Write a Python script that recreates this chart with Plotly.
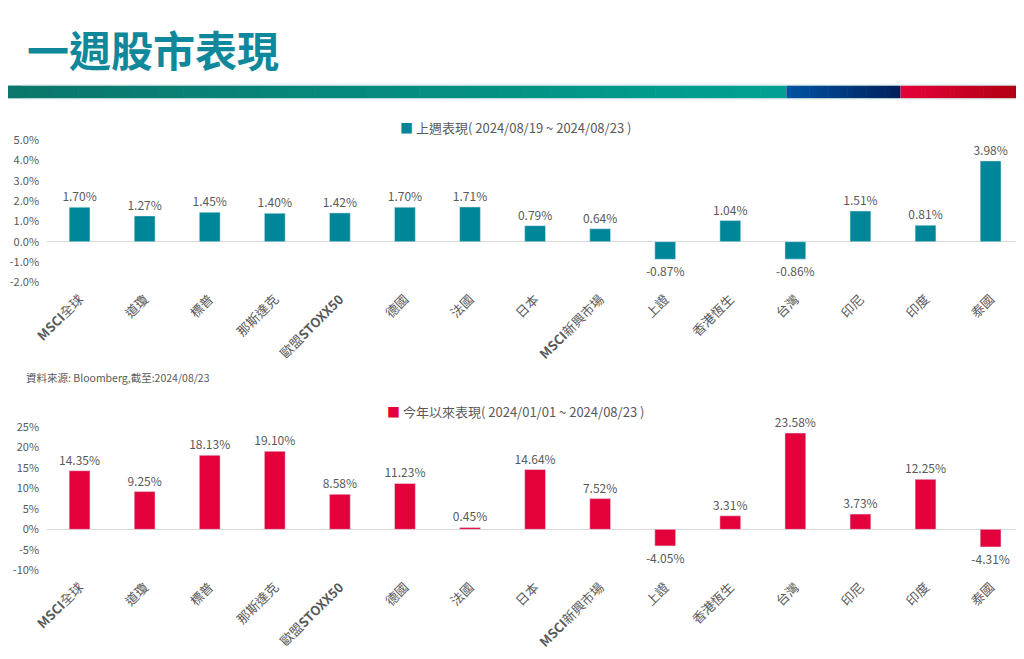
import plotly.graph_objects as go

# ─── Datos
categorias = ["<b>MSCI</b>全球", "道瓊", "標普", "那斯達克", "歐盟<b>STOXX50</b>", "德國", "法國",
              "日本", "<b>MSCI</b>新興市場", "上證", "香港恆生", "台灣", "印尼", "印度", "泰國"]
semana = [1.70, 1.27, 1.45, 1.40, 1.42, 1.70, 1.71, 0.79, 0.64, -0.87, 1.04, -0.86, 1.51, 0.81, 3.98]
anio = [14.35, 9.25, 18.13, 19.10, 8.58, 11.23, 0.45, 14.64, 7.52, -4.05, 3.31, 23.58, 3.73, 12.25, -4.31]

ticks_sem = [5, 4, 3, 2, 1, 0, -1, -2]
ticks_anio = [25, 20, 15, 10, 5, 0, -5, -10]

nombre_sem = "上週表現( 2024/08/19 ~ 2024/08/23 )"
nombre_anio = "今年以來表現( 2024/01/01 ~ 2024/08/23 )"
titulo = "一週股市表現"
fuente = "資料來源: Bloomberg,截至:2024/08/23"

FUENTE = "Noto Sans CJK TC"
TEAL = "#008699"
ROJO = "#E4003A"
GRIS = "#595959"

# figura de 1008x643; las posiciones se dan en píxeles de la captura y se convierten aquí
W, H = 1008, 643
OX, OY, SX, SY = 22.5, 14.0, 0.985, 0.981


def fx(x):
  return (x - OX) / SX


def px(x):
  return fx(x) / W


def py(y):
  return 1 - ((y - OY) / SY) / H


fig = go.Figure()

fig.add_trace(go.Bar(x=categorias, y=semana, name=nombre_sem, marker_color=TEAL,
                     width=0.32, texttemplate="%{y:.2f}%", textposition="outside",
                     constraintext="none", textfont=dict(size=12, color=GRIS),
                     cliponaxis=False, xaxis="x", yaxis="y", showlegend=False))
fig.add_trace(go.Bar(x=categorias, y=anio, name=nombre_anio, marker_color=ROJO,
                     width=0.32, texttemplate="%{y:.2f}%", textposition="outside",
                     constraintext="none", textfont=dict(size=12, color=GRIS),
                     cliponaxis=False, xaxis="x2", yaxis="y2", showlegend=False))

# cada categoría mide 65px en la captura; el área llega al borde derecho de la figura
ancho_cat = 65 / SX
fin_rango = -0.5 + (W - fx(47.5)) / ancho_cat
eje_x = dict(domain=[px(47.5), 1], range=[-0.5, fin_rango],
             tickangle=-45, showgrid=False, zeroline=False, showline=False, ticks="",
             ticklabelstandoff=6, tickfont=dict(size=13, color=GRIS, family=FUENTE))
eje_y = dict(showgrid=False, zeroline=True, zerolinecolor="#D9D9D9", zerolinewidth=1,
             ticks="", ticklabelstandoff=7, tickfont=dict(size=11, color=GRIS))

fig.update_layout(
  width=W, height=H, margin=dict(l=0, r=0, t=0, b=0),
  paper_bgcolor="white", plot_bgcolor="white",
  font=dict(family=FUENTE, color=GRIS),
  showlegend=False,
  xaxis=eje_x,
  xaxis2=dict(eje_x, anchor="y2"),
  yaxis=dict(eje_y, domain=[py(283), py(139)], range=[-2, 5], tickvals=ticks_sem,
             ticktext=[f"{v:.1f}%" for v in ticks_sem], anchor="x"),
  yaxis2=dict(eje_y, domain=[py(575), py(430)], range=[-10, 25], tickvals=ticks_anio,
              ticktext=[f"{v}%" for v in ticks_anio], anchor="x2"),
)

# leyendas como anotaciones
for nombre, color, yy in [(nombre_sem, TEAL, 126), (nombre_anio, ROJO, 414)]:
  fig.add_annotation(text=f"<span style='color:{color}'>■</span> {nombre}", x=px(515), y=py(yy),
                     xref="paper", yref="paper", xanchor="center", yanchor="middle",
                     showarrow=False, font=dict(size=13, color=GRIS, family=FUENTE))

# título (anclado arriba para que no se corte en el borde)
fig.add_annotation(text=titulo, x=4 / W, y=1, xref="paper", yref="paper",
                   xanchor="left", yanchor="top", showarrow=False, borderpad=0,
                   font=dict(size=42, color="#10889B", family=FUENTE, weight=700))
# fuente
fig.add_annotation(text=fuente, x=2 / W, y=py(380), xref="paper", yref="paper",
                   xanchor="left", yanchor="middle", showarrow=False,
                   font=dict(size=10.5, color=GRIS, family=FUENTE))


# banda de colores con degradado
def mezcla(c1, c2, t):
  a = [int(c1[i:i + 2], 16) for i in (1, 3, 5)]
  b = [int(c2[i:i + 2], 16) for i in (1, 3, 5)]
  return "#" + "".join(f"{round(a[k] + (b[k] - a[k]) * t):02x}" for k in range(3))


tramos = [(0, 786, "#0B766C", "#00A192"), (786, 900, "#0052A2", "#00205B"), (900, 1024, "#E4003A", "#AE0010")]
for x0, x1, c1, c2 in tramos:
  n = 30
  paso = (x1 - x0) / n
  for i in range(n):
    fig.add_shape(type="rect", xref="paper", yref="paper",
                  x0=px(x0 + i * paso), x1=px(min(x0 + (i + 1) * paso + 0.6, x1)),
                  y0=py(96.5), y1=py(83.5), fillcolor=mezcla(c1, c2, i / (n - 1)), line_width=0)
for yy in (83, 97):
  fig.add_shape(type="line", xref="paper", yref="paper", x0=0, x1=1, y0=py(yy), y1=py(yy),
                line=dict(color="#C9E3E0", width=1))

fig.write_html("out.html", config={"displayModeBar": False})
